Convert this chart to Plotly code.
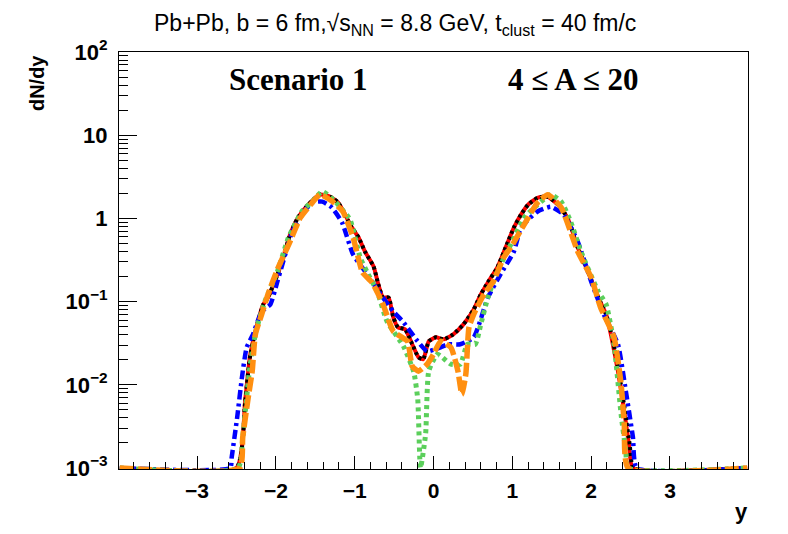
import plotly.graph_objects as go

# rapidity y and dN/dy for each curve
y_red = [-3.98, -2.50, -2.39, -2.33, -2.26, -2.16, -2.10, -1.98, -1.92, -1.82, -1.72, -1.59, -1.44, -1.31, -1.21,
         -1.12, -1.06, -0.95, -0.87, -0.76, -0.70, -0.64, -0.57, -0.51, -0.45, -0.36, -0.27, -0.19, -0.13,
         -0.06, 0.03, 0.13, 0.25, 0.38, 0.51, 0.60, 0.69, 0.81, 0.92, 1.02, 1.11, 1.20, 1.32, 1.45, 1.58,
         1.70, 1.83, 1.96, 2.09, 2.19, 2.25, 2.34, 2.42, 2.48, 2.53, 3.98]
n_red = [0.001, 0.001, 0.0064, 0.0214, 0.044, 0.0925, 0.112, 0.212, 0.303, 0.64, 1.02, 1.46, 1.93, 1.82, 1.55,
         1.11, 0.843, 0.589, 0.40, 0.264, 0.161, 0.112, 0.112, 0.0647, 0.049, 0.0464, 0.0307, 0.0214, 0.0203,
         0.0333, 0.0372, 0.0352, 0.0404, 0.0533, 0.0806, 0.122, 0.170, 0.257, 0.459, 0.776, 1.11, 1.46, 1.77, 1.82, 1.46,
         1.02, 0.447, 0.230, 0.112, 0.0703, 0.0404, 0.0146, 0.0048, 0.0019, 0.001, 0.001]

y_black = [-3.98, -2.50, -2.39, -2.33, -2.26, -2.16, -2.10, -1.98, -1.92, -1.82, -1.72, -1.59, -1.44, -1.31, -1.21,
           -1.12, -1.06, -0.95, -0.87, -0.76, -0.70, -0.64, -0.57, -0.51, -0.45, -0.36, -0.27, -0.19, -0.13,
           -0.06, 0.03, 0.13, 0.25, 0.38, 0.51, 0.60, 0.69, 0.81, 0.92, 1.02, 1.11, 1.20, 1.32, 1.45, 1.58,
           1.70, 1.83, 1.96, 2.09, 2.19, 2.26, 2.35, 2.43, 2.49, 2.54, 3.98]
n_black = [0.001, 0.001, 0.0062, 0.0210, 0.044, 0.0920, 0.112, 0.210, 0.300, 0.64, 1.02, 1.46, 1.95, 1.82, 1.55,
           1.11, 0.843, 0.589, 0.40, 0.264, 0.161, 0.112, 0.112, 0.0647, 0.049, 0.0464, 0.0307, 0.0214, 0.0203,
           0.0333, 0.0372, 0.0352, 0.0404, 0.0533, 0.0806, 0.122, 0.170, 0.257, 0.459, 0.776, 1.11, 1.46, 1.77, 1.82, 1.46,
           1.02, 0.447, 0.230, 0.112, 0.0703, 0.0404, 0.0146, 0.0048, 0.0019, 0.001, 0.001]

y_blue = [-3.98, -2.58, -2.56, -2.49, -2.43, -2.37, -2.29, -2.18, -2.07, -1.98, -1.79, -1.67, -1.54, -1.41, -1.29,
          -1.16, -1.02, -0.84, -0.67, -0.51, -0.39, -0.20, -0.08, 0.09, 0.18, 0.34, 0.51, 0.69, 0.85, 1.02,
          1.11, 1.32, 1.49, 1.65, 1.83, 2.00, 2.16, 2.34, 2.44, 2.53, 2.58, 3.98]
n_blue = [0.001, 0.001, 0.00135, 0.0041, 0.0123, 0.0282, 0.0404, 0.0762, 0.0925, 0.175, 0.695, 1.11, 1.55, 1.59, 1.35,
          0.891, 0.368, 0.212, 0.122, 0.0762, 0.0579, 0.0333, 0.0253, 0.0282, 0.0307, 0.0307, 0.0372, 0.112, 0.212, 0.40,
          0.776, 1.21, 1.38, 1.11, 0.527, 0.175, 0.0703, 0.0307, 0.0084, 0.00235, 0.001, 0.001]

y_green = [-3.98, -2.48, -2.42, -2.33, -2.25, -2.14, -1.98, -1.84, -1.67, -1.54, -1.41, -1.27, -1.06, -0.93, -0.84,
           -0.71, -0.59, -0.38, -0.25, -0.20, -0.165, -0.10, -0.06, 0.05, 0.22, 0.34, 0.43, 0.53, 0.60, 0.69,
           0.81, 0.98, 1.15, 1.32, 1.49, 1.62, 1.74, 1.87, 2.09, 2.19, 2.29, 2.38, 2.44, 2.47, 3.98]
n_green = [0.001, 0.001, 0.00235, 0.0163, 0.045, 0.100, 0.230, 0.589, 1.21, 1.60, 2.10, 1.68, 0.968, 0.339, 0.224,
           0.129, 0.0579, 0.029, 0.0142, 0.0067, 0.001, 0.00256, 0.0146, 0.0233, 0.0177, 0.0177, 0.0307, 0.0307, 0.0533, 0.112,
           0.230, 0.485, 1.02, 1.46, 1.93, 1.59, 0.916, 0.40, 0.132, 0.0925, 0.0307, 0.0044, 0.0016, 0.001, 0.001]

y_orange = [-3.98, -2.46, -2.42, -2.35, -2.30, -2.26, -2.18, -2.10, -1.97, -1.82, -1.69, -1.56, -1.44, -1.28, -1.15,
            -1.02, -0.90, -0.78, -0.64, -0.51, -0.33, -0.27, -0.19, -0.08, 0.00, 0.09, 0.22, 0.31, 0.36, 0.41,
            0.45, 0.51, 0.64, 0.76, 0.89, 0.98, 1.15, 1.32, 1.45, 1.62, 1.83, 2.00, 2.12, 2.29, 2.38, 2.42, 2.47, 3.98]
n_orange = [0.001, 0.001, 0.00235, 0.0071, 0.0146, 0.0404, 0.0703, 0.122, 0.257, 0.527, 1.02, 1.46, 1.93, 1.59, 1.21,
            0.589, 0.224, 0.170, 0.0925, 0.044, 0.0333, 0.0167, 0.0146, 0.0177, 0.0233, 0.0333, 0.0282, 0.0146, 0.0077, 0.0134,
            0.049, 0.0703, 0.122, 0.175, 0.339, 0.447, 0.843, 1.55, 1.93, 1.35, 0.40, 0.195, 0.0851, 0.0372, 0.0102, 0.0034, 0.001, 0.001]

x_tick_vals = [-3, -2, -1, 0, 1, 2, 3]
x_tick_text = ["\u22123", "\u22122", "\u22121", "0", "1", "2", "3"]
y_tick_vals = [1e-3, 1e-2, 1e-1, 1, 10, 100]
y_tick_text = ["10<sup>\u22123</sup>", "10<sup>\u22122</sup>", "10<sup>\u22121</sup>", "1", "10", "10<sup>2</sup>"]

series = [
    (y_red, n_red, "#ff0000", 4, "solid"),
    (y_black, n_black, "#000000", 4, "3px,3px"),
    (y_blue, n_blue, "#0000ff", 4.5, "9px,4px,3px,4px"),
    (y_green, n_green, "#5bcf5b", 5, "4px,4px"),
    (y_orange, n_orange, "#ff8f10", 5.5, "14px,4px"),
]

fig = go.Figure()
for xs, vs, col, w, dash in series:
    fig.add_trace(go.Scatter(x=xs, y=vs, mode="lines",
                             line=dict(color=col, width=w, dash=dash, shape="spline", smoothing=0.5),
                             showlegend=False, hoverinfo="skip"))

minor_y = [m * 10 ** e for e in range(-3, 2) for m in range(2, 10)]

fig.update_layout(
    width=780, height=526,
    margin=dict(l=111, r=40, t=44, b=65),
    paper_bgcolor="white", plot_bgcolor="white",
    font=dict(family="Liberation Sans", color="black"),
    xaxis=dict(range=[-3.99, 3.99], tickmode="array", tickvals=x_tick_vals, ticktext=x_tick_text,
               ticks="inside", ticklen=13, tickwidth=1, tickcolor="black",
               minor=dict(dtick=0.2, tick0=0, ticks="inside", ticklen=7, tickwidth=1, tickcolor="black"),
               showline=True, linecolor="black", linewidth=1, mirror=True, showgrid=False, zeroline=False,
               tickfont=dict(size=21, weight="bold", family="Liberation Sans"), ticklabelstandoff=3),
    yaxis=dict(type="log", range=[-3.012, 2.0], tickmode="array", tickvals=y_tick_vals, ticktext=y_tick_text,
               ticks="inside", ticklen=18, tickwidth=1, tickcolor="black",
               minor=dict(tickmode="array", tickvals=minor_y, ticks="inside", ticklen=9, tickwidth=1, tickcolor="black"),
               showline=True, linecolor="black", linewidth=1, mirror=True, showgrid=False, zeroline=False,
               tickfont=dict(size=22, weight="bold", family="Liberation Sans"), ticklabelstandoff=6),
    annotations=[
        dict(text="Pb+Pb, b = 6 fm,\u221as<sub>NN</sub> = 8.8 GeV, t<sub>clust</sub> = 40 fm/c",
             xref="paper", yref="paper", x=0.439, y=1.066, showarrow=False,
             xanchor="center", yanchor="middle", font=dict(size=23, family="Liberation Sans")),
        dict(text="<b>Scenario 1</b>", xref="paper", yref="paper", x=0.285, y=0.933, showarrow=False,
             xanchor="center", yanchor="middle", font=dict(size=31, family="Liberation Serif")),
        dict(text="<b>4 \u2264 A \u2264 20</b>", xref="paper", yref="paper", x=0.722, y=0.933, showarrow=False,
             xanchor="center", yanchor="middle", font=dict(size=31, family="Liberation Serif")),
        dict(text="<b>dN/dy</b>", xref="paper", yref="paper", x=-0.13, y=0.926, showarrow=False,
             textangle=-90, xanchor="center", yanchor="middle", font=dict(size=20, family="Liberation Sans")),
        dict(text="<b>y</b>", xref="paper", yref="paper", x=0.989, y=-0.103, showarrow=False,
             xanchor="center", yanchor="middle", font=dict(size=22, family="Liberation Sans")),
    ],
)

fig.write_html("out.html")
